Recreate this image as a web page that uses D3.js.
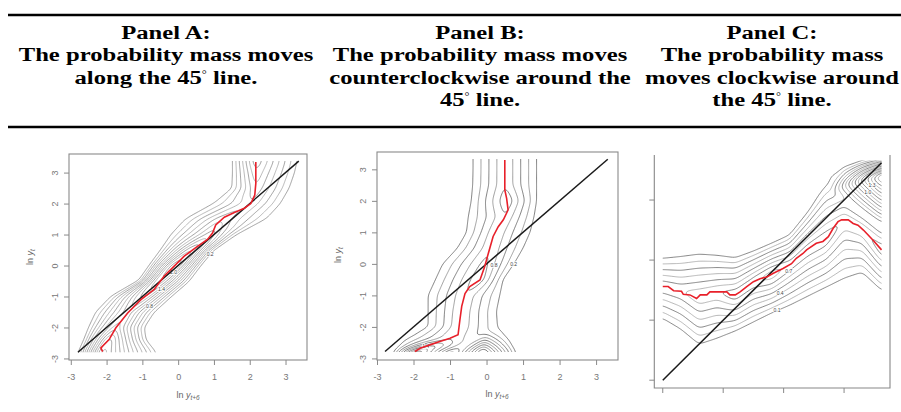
<!DOCTYPE html>
<html>
<head>
<meta charset="utf-8">
<script src="https://cdn.jsdelivr.net/npm/d3@7"></script>
<style>
  body { margin: 0; background: #fff; }
  svg { display: block; }
</style>
</head>
<body>
<svg id="chart" width="901" height="412"></svg>
<script>
// header texts
var headA = ["Panel A:", "The probability mass moves", "along the 45° line."];
var headB = ["Panel B:", "The probability mass moves", "counterclockwise around the", "45° line."];
var headC = ["Panel C:", "The probability mass", "moves clockwise around", "the 45° line."];

var axisTicks = [-3, -2, -1, 0, 1, 2, 3];
var cTicks = [0, 1, 2, 3];

// Panel A: conditional density rows (along y)
var aRowY  = [-2.8, -2.4, -2.0, -1.5, -1.0, -0.5, 0, 0.5, 1.0, 1.5, 2.0, 2.5, 3.0, 3.37];
var aMode  = [-2.12, -1.93, -1.74, -1.40, -0.98, -0.55, -0.10, 0.40, 0.93, 1.22, 2.03, 2.16, 2.17, 2.17];
var aLeft  = [-2.78, -2.63, -2.50, -2.30, -1.88, -1.10, -0.80, -0.49, -0.20, 0.20, 0.98, 1.50, 1.52, 1.52];
var aRight = [-0.62, -0.90, -0.95, -0.67, -0.20, 0.30, 0.62, 0.98, 1.62, 2.45, 2.85, 3.10, 3.25, 3.32];
var aPeak  = [2.6, 2.4, 1.8, 1.6, 2.0, 2.4, 2.6, 2.2, 1.6, 1.2, 1.0, 1.2, 1.4, 1.6];
var aRedX = [-2.11, -2.16, -1.93, -1.74, -1.41, -1.04, -0.67, -0.39, -0.11, 0.17, 0.54, 0.82, 0.96, 1.05, 1.29, 1.57, 1.85, 2.03, 2.14, 2.17, 2.17];
var aRedY = [-2.78, -2.66, -2.39, -2.01, -1.53, -1.10, -0.77, -0.34, -0.02, 0.30, 0.62, 0.84, 1.05, 1.31, 1.56, 1.71, 1.85, 2.00, 2.27, 2.65, 3.34];
var aDiag = [-2.8, 3.37];
var aLevels = d3.range(0.2, 3.01, 0.2);

// Panel B
var bRowY  = [-2.8, -2.4, -2.0, -1.5, -1.0, -0.5, 0, 0.5, 1.0, 1.5, 2.0, 2.5, 3.0, 3.33];
var bMode  = [-1.96, -1.00, -0.75, -0.70, -0.60, -0.20, -0.05, 0.12, 0.25, 0.50, 0.55, 0.50, 0.50, 0.50];
var bLeft  = [-2.55, -2.20, -1.60, -1.60, -1.60, -1.40, -1.20, -0.80, -0.55, -0.50, -0.42, -0.38, -0.37, -0.37];
var bRight = [-1.00, 0.40, 0.30, 0.27, 0.36, 0.45, 0.75, 1.00, 1.19, 1.30, 1.37, 1.37, 1.37, 1.37];
var bPeak  = [2.2, 1.0, 1.0, 1.0, 1.0, 1.2, 1.1, 1.0, 1.0, 1.0, 1.2, 1.0, 1.0, 1.0];
// second mode at the bottom right
var b2RowY  = [-2.8, -2.4, -2.0];
var b2Mode  = [-0.10, -0.05, 0.0];
var b2Left  = [-0.95, -0.60, -0.20];
var b2Right = [0.80, 0.60, 0.25];
var b2Peak  = [2.2, 1.0, 0.1];
var bRedX = [-1.96, -1.82, -1.55, -1.28, -1.00, -0.78, -0.73, -0.68, -0.59, -0.46, -0.18, -0.05, 0.05, 0.18, 0.32, 0.46, 0.59, 0.55, 0.50, 0.50];
var bRedY = [-2.78, -2.68, -2.57, -2.46, -2.36, -2.25, -1.78, -1.35, -0.94, -0.72, -0.51, -0.08, 0.34, 0.87, 1.18, 1.40, 1.71, 2.08, 2.35, 3.30];
var bDiag = [-2.78, 3.32];
var bLevels = d3.range(0.2, 2.61, 0.2);

// Panel C: conditional density columns (along x)
var cColX  = [0, 0.3, 0.6, 0.9, 1.2, 1.5, 1.8, 2.1, 2.4, 2.7, 3.0, 3.3, 3.62];
var cMode  = [1.56, 1.48, 1.40, 1.47, 1.42, 1.64, 1.76, 1.92, 2.18, 2.35, 2.67, 2.52, 2.17];
var cBelow = [1.03, 0.85, 0.60, 0.70, 0.82, 0.97, 1.12, 1.25, 1.40, 1.55, 1.70, 1.80, 1.50];
var cAbove = [2.03, 2.06, 2.10, 2.08, 2.04, 2.15, 2.28, 2.42, 2.80, 3.25, 3.35, 3.05, 2.80];
var cPeak  = [0.6, 0.6, 0.7, 0.7, 0.8, 0.8, 0.9, 0.8, 0.8, 0.8, 0.7, 0.7, 0.8];
var c2ColX  = [2.7, 3.0, 3.3, 3.62];
var c2Mode  = [3.10, 3.25, 3.35, 3.40];
var c2Below = [2.90, 2.80, 2.60, 2.40];
var c2Above = [3.30, 3.55, 3.65, 3.72];
var c2Peak  = [0.05, 0.6, 1.2, 1.8];
var cRedX = [0, 0.09, 0.18, 0.31, 0.34, 0.45, 0.56, 0.62, 0.73, 0.78, 1.06, 1.11, 1.20, 1.28, 1.39, 1.50, 1.61, 1.72, 1.83, 1.99, 2.13, 2.21, 2.32, 2.38, 2.54, 2.65, 2.74, 2.82, 2.90, 2.96, 3.07, 3.15, 3.23, 3.32, 3.48, 3.62];
var cRedY = [1.56, 1.56, 1.49, 1.48, 1.43, 1.42, 1.36, 1.42, 1.42, 1.47, 1.47, 1.42, 1.42, 1.47, 1.56, 1.64, 1.69, 1.72, 1.78, 1.86, 1.94, 2.03, 2.11, 2.17, 2.28, 2.31, 2.39, 2.53, 2.64, 2.67, 2.67, 2.61, 2.58, 2.50, 2.33, 2.17];
var cDiag = [0, 3.62];
var cLevels = d3.range(0.1, 1.81, 0.1);

var svg = d3.select("#chart");

// ----- table header -----
svg.selectAll("line.rule").data([15, 127]).enter().append("line")
  .attr("x1", 8).attr("x2", 901)
  .attr("y1", function(d) { return d; }).attr("y2", function(d) { return d; })
  .attr("stroke", "#000").attr("stroke-width", 2.5);

var baselines = [39, 61.5, 84, 106.3];
[[headA, 166], [headB, 480], [headC, 772]].forEach(function(h) {
  // the scanned header font is wider than Times, so stretch it a little
  var col = svg.append("g").attr("transform", "translate(" + h[1] + ",0) scale(1.245,1)");
  h[0].forEach(function(line, i) {
    var t = col.append("text")
      .attr("x", 0).attr("y", baselines[i])
      .attr("text-anchor", "middle")
      .style("font-family", "'Liberation Serif', 'Times New Roman', serif")
      .style("font-weight", "bold").style("font-size", "19.8px");
    var parts = line.split("°");
    t.append("tspan").text(parts[0]);
    if (parts.length > 1) {
      t.append("tspan").attr("dy", -6).style("font-size", "10px").style("font-weight", "normal").text("°");
      t.append("tspan").attr("dy", 6).text(parts[1]);
    }
  });
});

// ----- density helpers -----
function makeRidge(pos, mode, lo, hi, peak) {
  function s(arr) { return d3.scaleLinear().domain(pos).range(arr).clamp(true); }
  return { mode: s(mode), lo: s(lo), hi: s(hi), peak: s(peak) };
}

function ridgeValue(r, u, v, t0) {
  var c = r.mode(u), h = r.peak(u);
  var ext = v < c ? c - r.lo(u) : r.hi(u) - c;
  var d = Math.abs(v - c) / Math.max(ext, 0.02);
  var f = h > t0 ? h - (h - t0) * d : h * (1 - d);
  return Math.max(0, f);
}

var clipCount = 0;
var placedLabels = [];

function drawContours(g, x, y, ridges, alongY, levels, clip, colours) {
  var nx = 220, ny = 220;
  var xd = x.domain(), yd = y.domain();
  var t0 = levels[0];
  var values = new Float64Array(nx * ny);
  for (var j = 0; j < ny; j++) {
    var yv = yd[0] + (j + 0.5) / ny * (yd[1] - yd[0]);
    for (var i = 0; i < nx; i++) {
      var xv = xd[0] + (i + 0.5) / nx * (xd[1] - xd[0]);
      var u = alongY ? yv : xv, v = alongY ? xv : yv;
      var f = 0;
      ridges.forEach(function(r) { f = Math.max(f, ridgeValue(r, u, v, t0)); });
      values[j * nx + i] = f;
    }
  }
  if (d3.blur2) d3.blur2({data: values, width: nx, height: ny}, 2);

  function toPx(p) {
    return [x(xd[0] + p[0] / nx * (xd[1] - xd[0])), y(yd[0] + p[1] / ny * (yd[1] - yd[0]))];
  }
  var proj = d3.geoTransform({
    point: function(px, py) { var q = toPx([px, py]); this.stream.point(q[0], q[1]); }
  });
  var path = d3.geoPath(proj);
  var contours = d3.contours().size([nx, ny]).thresholds(levels)(values);

  var id = "clip" + (clipCount++);
  var cx0 = x(clip[0]), cx1 = x(clip[1]), cy0 = y(clip[3]), cy1 = y(clip[2]);
  g.append("clipPath").attr("id", id).append("rect")
    .attr("x", cx0).attr("y", cy0).attr("width", cx1 - cx0).attr("height", cy1 - cy0);

  var cg = g.append("g").attr("clip-path", "url(#" + id + ")");
  cg.selectAll("path").data(contours).enter().append("path")
    .attr("d", path)
    .attr("fill", "none")
    .attr("stroke", function(d, i) { return colours[i % colours.length]; })
    .attr("stroke-width", 0.7);

  // a few small contour labels, kept apart from each other
  contours.forEach(function(c, k) {
    if (k % 3 !== 0) return;
    var best = null;
    c.coordinates.forEach(function(poly) {
      poly.forEach(function(ring) { if (!best || ring.length > best.length) best = ring; });
    });
    if (!best) return;
    var pts = best.map(toPx).filter(function(p) {
      return p[0] > cx0 + 5 && p[0] < cx1 - 5 && p[1] > cy0 + 5 && p[1] < cy1 - 5;
    });
    if (pts.length < 10) return;
    var tries = [0.25, 0.4, 0.6, 0.75, 0.15, 0.9];
    for (var n = 0; n < tries.length; n++) {
      var p = pts[Math.floor(pts.length * tries[n])];
      var clash = placedLabels.some(function(q) {
        return Math.abs(q[0] - p[0]) < 11 && Math.abs(q[1] - p[1]) < 7;
      });
      if (clash) continue;
      placedLabels.push(p);
      cg.append("text")
        .attr("x", p[0]).attr("y", p[1]).attr("dy", "0.35em")
        .attr("text-anchor", "middle")
        .style("font-family", "'Liberation Sans', Arial, sans-serif")
        .style("font-size", "5px")
        .attr("fill", "#444")
        .attr("stroke", "#fff").attr("stroke-width", 1.6)
        .style("paint-order", "stroke")
        .text(d3.format(".1f")(c.value));
      break;
    }
  });
}

function drawLines(g, x, y, redX, redY, diag) {
  g.append("line")
    .attr("x1", x(diag[0])).attr("y1", y(diag[0]))
    .attr("x2", x(diag[1])).attr("y2", y(diag[1]))
    .attr("stroke", "#1a1a1a").attr("stroke-width", 1.5);
  var line = d3.line().x(function(d) { return x(d[0]); }).y(function(d) { return y(d[1]); });
  g.append("path")
    .datum(d3.zip(redX, redY))
    .attr("d", line)
    .attr("fill", "none")
    .attr("stroke", "#e8202a").attr("stroke-width", 1.6);
}

function axisTitle(g, x, y, sub, rotate) {
  var t = g.append("text")
    .attr("text-anchor", "middle")
    .style("font-family", "'Liberation Sans', Arial, sans-serif")
    .style("font-size", "9px")
    .attr("fill", "#666");
  if (rotate) t.attr("transform", "translate(" + x + "," + y + ") rotate(-90)");
  else t.attr("transform", "translate(" + x + "," + y + ")");
  t.append("tspan").text("ln ");
  t.append("tspan").style("font-style", "italic").text("y");
  t.append("tspan").attr("dy", 2).style("font-size", "6.5px").style("font-style", "italic").text(sub);
}

function rAxes(g, x, y) {
  var grey = "#8a8a8a";
  g.append("rect")
    .attr("x", x.range()[0]).attr("y", y.range()[1])
    .attr("width", x.range()[1] - x.range()[0])
    .attr("height", y.range()[0] - y.range()[1])
    .attr("fill", "none").attr("stroke", grey).attr("stroke-width", 1.1);

  var fmt = function(d) { return String(d); };
  var ax = g.append("g")
    .attr("transform", "translate(0," + y.range()[0] + ")")
    .call(d3.axisBottom(x).tickValues(axisTicks).tickFormat(fmt).tickSize(5).tickPadding(9).tickSizeOuter(0));
  var ay = g.append("g")
    .attr("transform", "translate(" + x.range()[0] + ",0)")
    .call(d3.axisLeft(y).tickValues(axisTicks).tickFormat(fmt).tickSize(5).tickSizeOuter(0));
  [ax, ay].forEach(function(a) {
    a.select(".domain").remove();
    a.selectAll("line").attr("stroke", grey);
    a.selectAll("text").attr("fill", "#777")
      .style("font-family", "'Liberation Sans', Arial, sans-serif").style("font-size", "9px");
  });
  ay.selectAll("text")
    .attr("x", 0).attr("y", -11.5).attr("dy", 0)
    .attr("text-anchor", "middle")
    .attr("transform", "rotate(-90)");
}

// ----- Panel A -----
var gA = svg.append("g");
var xA = d3.scaleLinear().domain([-3.05, 3.6]).range([69, 307]);
var yA = d3.scaleLinear().domain([-3.05, 3.6]).range([360, 154]);
drawContours(gA, xA, yA, [makeRidge(aRowY, aMode, aLeft, aRight, aPeak)], true, aLevels,
  [-2.8, 3.37, -2.8, 3.37], ["#7a7a7a", "#9a9a9a"]);
drawLines(gA, xA, yA, aRedX, aRedY, aDiag);
rAxes(gA, xA, yA);
axisTitle(gA, 33, 257, "t", true);
axisTitle(gA, 188, 398, "t+6", false);

// ----- Panel B -----
var gB = svg.append("g");
var xB = d3.scaleLinear().domain([-3.0, 3.6]).range([377, 618]);
var yB = d3.scaleLinear().domain([-3.05, 3.55]).range([360, 152]);
drawContours(gB, xB, yB, [makeRidge(bRowY, bMode, bLeft, bRight, bPeak),
  makeRidge(b2RowY, b2Mode, b2Left, b2Right, b2Peak)], true, bLevels,
  [-2.8, 3.33, -2.8, 3.33], ["#4a4a4a", "#777"]);
drawLines(gB, xB, yB, bRedX, bRedY, bDiag);
rAxes(gB, xB, yB);
axisTitle(gB, 341, 255, "t", true);
axisTitle(gB, 497, 397, "t+6", false);

// ----- Panel C -----
var gC = svg.append("g");
var xC = d3.scaleLinear().domain([-0.14, 3.76]).range([654.3, 890]);
var yC = d3.scaleLinear().domain([-0.13, 3.75]).range([388, 155]);
drawContours(gC, xC, yC, [makeRidge(cColX, cMode, cBelow, cAbove, cPeak),
  makeRidge(c2ColX, c2Mode, c2Below, c2Above, c2Peak)], false, cLevels,
  [0, 3.62, 0, 3.66], ["#555", "#999"]);
drawLines(gC, xC, yC, cRedX, cRedY, cDiag);

var cGrey = "#888";
gC.append("path")
  .attr("d", "M" + xC.range()[0] + "," + yC.range()[1] + "V" + yC.range()[0] +
             "H" + xC.range()[1] + "V" + yC.range()[1])
  .attr("fill", "none").attr("stroke", cGrey).attr("stroke-width", 1.1);
gC.selectAll("line.yt").data(cTicks).enter().append("line")
  .attr("x1", xC.range()[0] - 5).attr("x2", xC.range()[0])
  .attr("y1", function(d) { return yC(d); }).attr("y2", function(d) { return yC(d); })
  .attr("stroke", cGrey);
gC.selectAll("line.xt").data(cTicks).enter().append("line")
  .attr("y1", yC.range()[0]).attr("y2", yC.range()[0] + 5)
  .attr("x1", function(d) { return xC(d); }).attr("x2", function(d) { return xC(d); })
  .attr("stroke", cGrey);
</script>
</body>
</html>
